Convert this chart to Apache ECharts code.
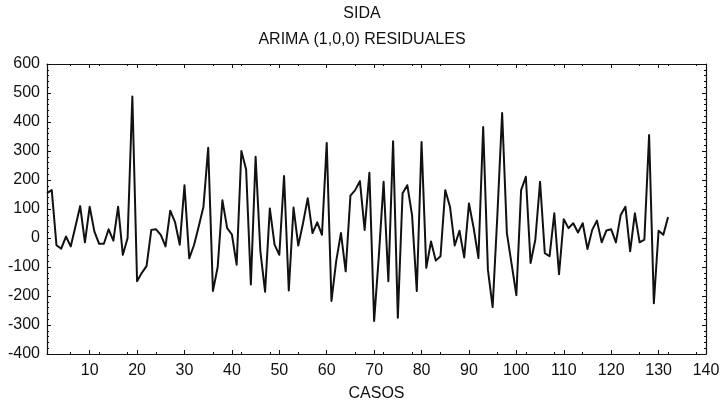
<!DOCTYPE html>
<html>
<head>
<meta charset="utf-8">
<title>SIDA - ARIMA (1,0,0) residuales</title>
<script src="https://cdn.jsdelivr.net/npm/echarts@6/dist/echarts.min.js"></script>
<style>
  html, body { margin: 0; padding: 0; background: #ffffff; }
  #chart { width: 724px; height: 408px; }
</style>
</head>
<body>
<div id="chart"></div>
<script>
// Residuales del modelo ARIMA (1,0,0), un valor por caso (1..132)
const residuales = [
  155, 165, -25, -37, 5, -29, 40, 110, -15, 108,
  22, -20, -20, 30, -9, 108, -58, 0, 488, -149,
  -120, -97, 28, 30, 11, -29, 94, 55, -23, 182,
  -70, -25, 40, 108, 311, -183, -100, 130, 34, 12,
  -92, 300, 236, -160, 280, -45, -185, 102, -23, -58,
  214, -181, 105, -26, 51, 137, 17, 54, 11, 328,
  -217, -80, 17, -115, 146, 165, 196, 28, 225, -286,
  -60, 194, -149, 334, -275, 154, 182, 79, -183, 331,
  -103, -12, -78, -63, 165, 108, -26, 25, -67, 119,
  34, -69, 383, -110, -238, 80, 431, 17, -90, -197,
  165, 211, -86, -6, 194, -52, -63, 85, -125, 65,
  34, 51, 19, 51, -38, 28, 60, -15, 26, 30,
  -15, 79, 108, -46, 85, -15, -6, 355, -225, 25,
  11, 72
];

// Etiquetas del eje de casos
const etiquetasCasos = [10, 20, 30, 40, 50, 60, 70, 80, 90, 100, 110, 120, 130, 140];

const titulo = 'SIDA';
const subtitulo = 'ARIMA (1,0,0) RESIDUALES';
const tituloEjeX = 'CASOS';

const puntos = residuales.map((v, i) => [i + 1, v]);

const fuente = 'Liberation Sans, Arial, sans-serif';
const negro = '#111111';

const chart = echarts.init(document.getElementById('chart'), null, { renderer: 'canvas' });

const ejeXBase = {
  type: 'value',
  min: 1,
  max: 140,
  axisLine: { show: true, onZero: false, lineStyle: { color: negro, width: 1.2 } },
  axisTick: { show: true, inside: true, length: 4, customValues: etiquetasCasos, lineStyle: { color: negro } },
  minorTick: { show: true, splitNumber: 5, length: 2, lineStyle: { color: negro } },
  splitLine: { show: false }
};

const ejeYBase = {
  type: 'value',
  min: -400,
  max: 600,
  interval: 100,
  axisLine: { show: true, onZero: false, lineStyle: { color: negro, width: 1.2 } },
  axisTick: { show: true, inside: true, length: 4, lineStyle: { color: negro } },
  minorTick: { show: true, splitNumber: 5, length: 2, lineStyle: { color: negro } },
  splitLine: { show: false }
};

chart.setOption({
  animation: false,
  backgroundColor: '#ffffff',
  title: [
    {
      text: titulo,
      left: 'center',
      top: 1,
      textStyle: { fontFamily: fuente, fontSize: 16, fontWeight: 'normal', color: negro }
    },
    {
      text: subtitulo,
      left: 'center',
      top: 27,
      textStyle: { fontFamily: fuente, fontSize: 16, fontWeight: 'normal', color: negro }
    }
  ],
  grid: { left: 47, right: 18, top: 64, bottom: 54, containLabel: false },
  xAxis: [
    Object.assign({}, ejeXBase, {
      position: 'bottom',
      name: tituloEjeX,
      nameLocation: 'middle',
      nameGap: 32,
      nameTextStyle: { fontFamily: fuente, fontSize: 16, color: negro },
      axisLabel: {
        show: true,
        customValues: etiquetasCasos,
        margin: 9,
        fontFamily: fuente,
        fontSize: 16,
        color: negro
      }
    }),
    Object.assign({}, ejeXBase, {
      position: 'top',
      axisLabel: { show: false }
    })
  ],
  yAxis: [
    Object.assign({}, ejeYBase, {
      position: 'left',
      axisLabel: { show: true, margin: 7, fontFamily: fuente, fontSize: 16, color: negro }
    }),
    Object.assign({}, ejeYBase, {
      position: 'right',
      axisLabel: { show: false }
    })
  ],
  series: [
    {
      type: 'line',
      xAxisIndex: 0,
      yAxisIndex: 0,
      data: puntos,
      showSymbol: false,
      smooth: false,
      lineStyle: { color: negro, width: 2, join: 'round' },
      silent: true
    }
  ]
});
</script>
</body>
</html>
